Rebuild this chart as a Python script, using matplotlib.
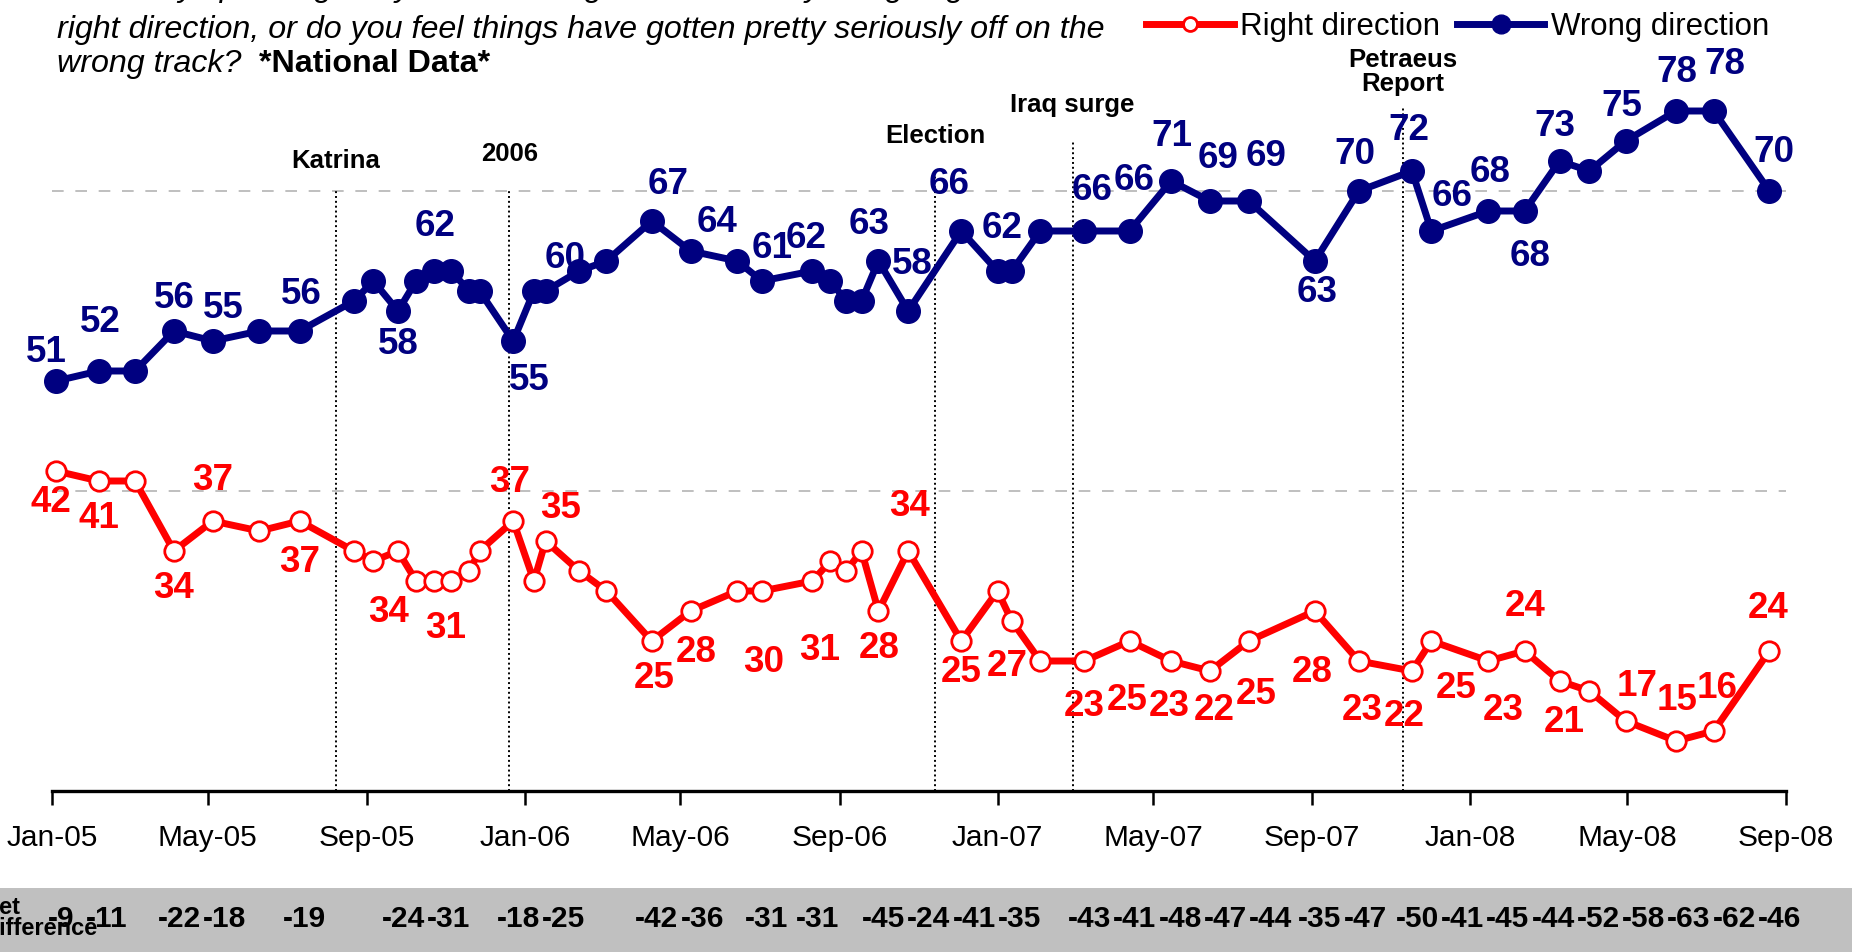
#! /usr/bin/env python3

import datetime as dt

import numpy as np
import matplotlib
matplotlib.use('Agg')
import matplotlib.pyplot as plt
import matplotlib.dates as mdates
import matplotlib.transforms as mtransforms
from matplotlib.lines import Line2D
from matplotlib.patches import FancyBboxPatch, Rectangle

plt.rcParams['font.family'] = ['Liberation Sans', 'DejaVu Sans']

# poll dates
poll_dates = ['2005-01-04', '2005-02-06', '2005-03-06', '2005-04-05', '2005-05-05',
              '2005-06-10', '2005-07-11', '2005-08-22', '2005-09-06', '2005-09-25',
              '2005-10-09', '2005-10-23', '2005-11-05', '2005-11-19', '2005-11-27',
              '2005-12-23', '2006-01-08', '2006-01-17', '2006-02-12', '2006-03-05',
              '2006-04-09', '2006-05-09', '2006-06-14', '2006-07-03', '2006-08-11',
              '2006-08-25', '2006-09-06', '2006-09-18', '2006-10-01', '2006-10-24',
              '2006-12-04', '2007-01-01', '2007-01-12', '2007-02-03', '2007-03-09',
              '2007-04-13', '2007-05-15', '2007-06-14', '2007-07-14', '2007-09-03',
              '2007-10-07', '2007-11-17', '2007-12-02', '2008-01-15', '2008-02-12',
              '2008-03-10', '2008-04-02', '2008-04-30', '2008-06-08', '2008-07-07',
              '2008-08-19']

wrong_track = [51, 52, 52, 56, 55, 56, 56, 59, 61, 58, 61, 62, 62, 60, 60, 55, 60, 60,
               62, 63, 67, 64, 63, 61, 62, 61, 59, 59, 63, 58, 66, 62, 62, 66, 66, 66,
               71, 69, 69, 63, 70, 72, 66, 68, 68, 73, 72, 75, 78, 78, 70]
right_dir = [42, 41, 41, 34, 37, 36, 37, 34, 33, 34, 31, 31, 31, 32, 34, 37, 31, 35,
             32, 30, 25, 28, 30, 30, 31, 33, 32, 34, 28, 34, 25, 30, 27, 23, 23, 25,
             23, 22, 25, 28, 23, 22, 25, 23, 24, 21, 20, 17, 15, 16, 24]

# polls that carry value labels (and a net difference)
labeled = [0, 1, 3, 4, 6, 9, 11, 15, 17, 20, 21, 23, 24, 28, 29, 30, 32, 34, 35, 36,
           37, 38, 39, 40, 41, 42, 43, 44, 45, 47, 48, 49, 50]
net_diff = [-9, -11, -22, -18, -19, -24, -31, -18, -25, -42, -36, -31, -31, -45, -24,
            -41, -35, -43, -41, -48, -47, -44, -35, -47, -50, -41, -45, -44, -52, -58,
            -63, -62, -46]

event_dates = ['2005-08-08', '2005-12-20', '2006-11-14', '2007-02-28', '2007-11-10']
event_names = ['Katrina', '2006', 'Election', 'Iraq surge', 'Petraeus\nReport']

# layout (pixel offsets of the value labels, x right / y down)
wrong_off = [(-10, -29), (2, -48), (0, -32), (11, -33), (2, -36), (0, 33), (1, -45),
             (16, 40), (20, -32), (16, -36), (26, -28), (10, -32), (-6, -33), (-9, -37),
             (4, -46), (-12, -46), (-10, -42), (8, -41), (4, -51), (1, -44), (8, -43),
             (17, -44), (2, 31), (-4, -37), (-3, -40), (21, -35), (2, -38), (5, 46),
             (-5, -34), (-4, -34), (1, -38), (11, -46), (5, -39)]
right_off = [(-5, 32), (0, 37), (0, 37), (0, -40), (0, 42), (-9, 62), (11, 48),
             (-4, -38), (15, -33), (2, 38), (6, 41), (2, 72), (7, 70), (1, 38), (1, -45),
             (0, 31), (-5, 45), (0, 45), (-2, 59), (-2, 45), (4, 40), (7, 53), (-3, 62),
             (3, 50), (-8, 45), (25, 48), (15, 50), (1, -44), (5, 42), (12, -35),
             (1, -41), (3, -42), (-1, -42)]
event_label_y = [73.0, 73.7, 75.5, 78.6, 81.9]
event_line_top = [70.1, 70.1, 72.0, 74.9, 78.5]

NAVY = '#000080'
RED = '#ff0000'
W, H = 1852, 952


def main():
    fig = plt.figure(figsize=(W / 100, H / 100), dpi=100)
    ax = fig.add_axes([52.2 / W, 161 / H, 1734 / W, 791 / H])

    x = mdates.date2num([dt.date.fromisoformat(d) for d in poll_dates])

    ax.set_xlim(mdates.date2num(dt.date(2005, 1, 1)), mdates.date2num(dt.date(2008, 9, 1)))
    ax.set_ylim(10, 89.1)

    for v in (40, 70):
        ax.axhline(v, color='#b4b4b4', lw=1.2, ls=(0, (7, 7)), zorder=1)

    # events
    for d, name, ly, top in zip(event_dates, event_names, event_label_y, event_line_top):
        ex = mdates.date2num(dt.date.fromisoformat(d))
        ax.plot([ex, ex], [10, top], color='black', lw=1.4, ls=(0, (1, 1.5)), zorder=1)
        ax.text(ex, ly, name, ha='center', va='center', fontsize=18.5,
                fontweight='bold', linespacing=1.0, zorder=2)

    ax.plot(x, wrong_track, color=NAVY, lw=5, marker='o', ms=17, mfc=NAVY, mec=NAVY,
            zorder=4, clip_on=False)
    ax.plot(x, right_dir, color=RED, lw=5, marker='o', ms=14, mfc='white', mec=RED,
            mew=2, zorder=4, clip_on=False)

    for k, i in enumerate(labeled):
        dx, dy = wrong_off[k]
        ax.annotate(str(wrong_track[i]), (x[i], wrong_track[i]), xytext=(dx, -dy),
                    textcoords='offset pixels', ha='center', va='center',
                    fontsize=26.5, fontweight='bold', color=NAVY, zorder=5)
        dx, dy = right_off[k]
        ax.annotate(str(right_dir[i]), (x[i], right_dir[i]), xytext=(dx, -dy),
                    textcoords='offset pixels', ha='center', va='center',
                    fontsize=26.5, fontweight='bold', color=RED, zorder=5)

    # axes styling
    for s in ('left', 'right', 'top'):
        ax.spines[s].set_visible(False)
    ax.spines['bottom'].set_linewidth(2.4)
    ax.set_yticks([])
    ax.xaxis.set_major_locator(mdates.MonthLocator(bymonth=[1, 5, 9]))
    ax.xaxis.set_major_formatter(mdates.DateFormatter('%b-%y'))
    ax.tick_params(axis='x', direction='out', length=10, width=1.8, pad=14, labelsize=21.5)

    # question box at the top
    box = FancyBboxPatch((53, H - 83), 1057, 150, boxstyle='round,pad=0,rounding_size=12',
                         transform=mtransforms.IdentityTransform(), facecolor='#cbcbcb',
                         edgecolor='none', zorder=0)
    fig.add_artist(box)
    q_lines = ['Generally speaking, do you think things in the country are going in the',
               'right direction, or do you feel things have gotten pretty seriously off on the',
               'wrong track?  ']
    q_y = [-12, 30, 64]
    for line, ly in zip(q_lines, q_y):
        t = fig.text(57 / W, 1 - ly / H, line, ha='left', va='center',
                     fontsize=23.2, style='italic')
    fig.canvas.draw()
    bb = t.get_window_extent()
    fig.text(bb.x1 / W, 1 - q_y[-1] / H, '*National Data*', ha='left', va='center',
             fontsize=23.2, fontweight='bold')

    # legend
    handles = [Line2D([], [], color=RED, lw=5, marker='o', ms=10, mfc='white', mec=RED, mew=2),
               Line2D([], [], color=NAVY, lw=5, marker='o', ms=13.5, mfc=NAVY, mec=NAVY)]
    fig.legend(handles, ['Right direction', 'Wrong direction'], loc='center left',
               bbox_to_anchor=(1146 / W, 1 - 27 / H), ncol=2, frameon=False,
               fontsize=22.5, handlelength=2.8, handletextpad=0.2, columnspacing=0.55,
               borderpad=0, borderaxespad=0)

    # net difference band
    fig.add_artist(Rectangle((0, 0), 1, 64 / H, transform=fig.transFigure,
                             facecolor='#c0c0c0', edgecolor='none', zorder=0))
    fig.text(-18 / W, 1 - 918 / H, 'Net\nDifference', ha='left', va='center',
             fontsize=17, fontweight='bold', linespacing=0.85)
    trans = mtransforms.blended_transform_factory(ax.transData, fig.transFigure)
    prev = -np.inf
    for k, i in enumerate(labeled):
        nx = max(x[i] + 4, prev + 35)
        prev = nx
        ax.text(nx, 1 - 919 / H, '{:d}'.format(net_diff[k]), transform=trans,
                ha='center', va='center', fontsize=21.5, fontweight='bold', clip_on=False)

    fig.savefig('out.png', dpi=100)


if __name__ == "__main__":
    main()
